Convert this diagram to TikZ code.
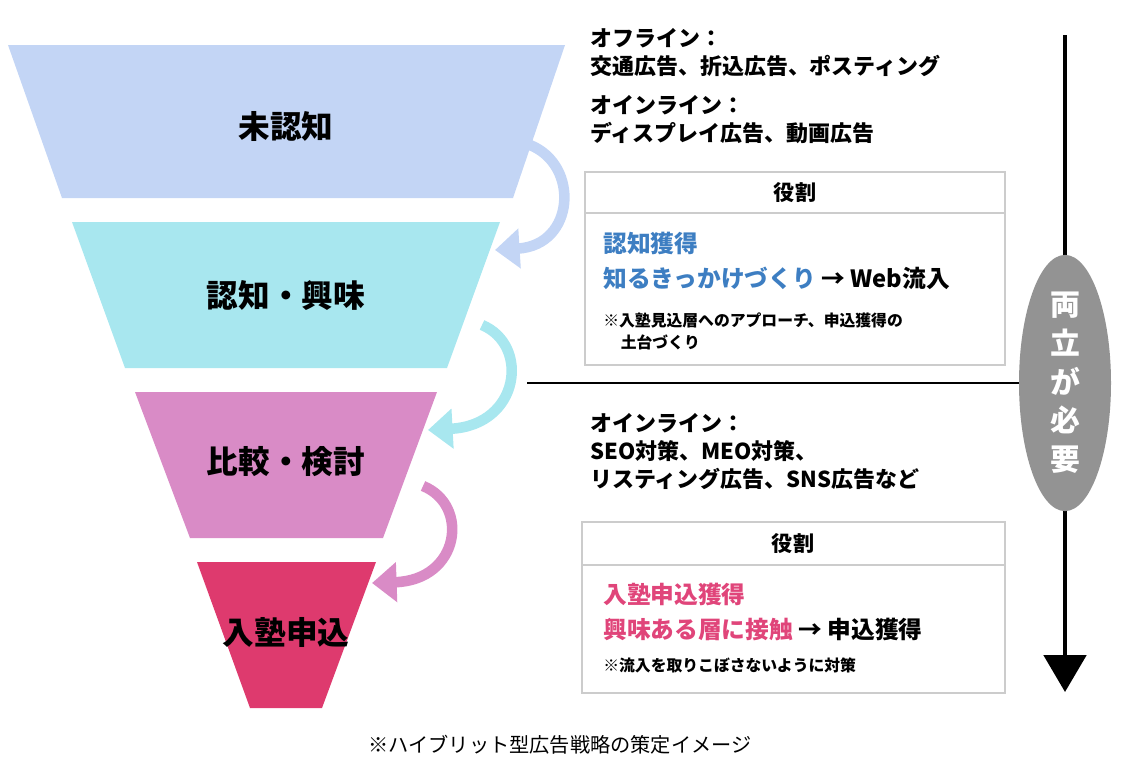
\documentclass[tikz,border=0pt]{standalone}
\usepackage{fontspec}
\setmainfont{Noto Sans CJK JP}
\usetikzlibrary{arrows.meta,positioning,shapes.geometric}
\definecolor{cStageA}{HTML}{C3D5F5}
\definecolor{cStageB}{HTML}{A8E7EF}
\definecolor{cStageC}{HTML}{D98BC6}
\definecolor{cStageD}{HTML}{DE3A6E}
\definecolor{cBlueText}{HTML}{3D7EC2}
\definecolor{cPinkText}{HTML}{E0457A}
\tikzset{
    tsStage/.style={font=\bfseries\fontsize{18}{21}\selectfont, text=black},
    tsInfo/.style={font=\bfseries\fontsize{12.5}{16}\selectfont, align=left, anchor=north west, inner sep=0pt},
    tsBox/.style={draw=gray!40, line width=0.8pt},
    tsFlow/.style={line width=6pt, -{Triangle[length=14pt,width=22pt]}}
}
\begin{document}
\begin{tikzpicture}[x=0.02cm,y=-0.02cm]
    \useasboundingbox (0,0) rectangle (1125,765);

    % funnel stages
    \fill[cStageA] (8,45) -- (565,45) -- (513,198) -- (62,198) -- cycle;
    \fill[cStageB] (72,222) -- (500,222) -- (447,368) -- (125,368) -- cycle;
    \fill[cStageC] (135,392) -- (437,392) -- (383,538) -- (190,538) -- cycle;
    \fill[cStageD] (197,562) -- (376,562) -- (322,708) -- (250,708) -- cycle;

    \node[tsStage] (unaware) at (286,126) {未認知};
    \node[tsStage] (interest) at (286,295) {認知・興味};
    \node[tsStage] (compare) at (286,462) {比較・検討};
    \node[tsStage] (apply) at (286,632) {入塾申込};

    % flow arrows
    \draw[tsFlow, cStageA] (530,145) .. controls (580,165) and (575,245) .. (495,250);
    \draw[tsFlow, cStageB] (482,325) .. controls (530,345) and (520,425) .. (428,430);
    \draw[tsFlow, cStageC] (423,486) .. controls (470,505) and (460,580) .. (372,583);

    % upper info
    \node[tsInfo] (offline) at (590,28) {オフライン：\\交通広告、折込広告、ポスティング};
    \node[tsInfo] (online1) at (590,95) {オインライン：\\ディスプレイ広告、動画広告};
    \draw[tsBox] (585,172) rectangle (1005,365);
    \draw[tsBox] (585,213) -- (1005,213);
    \node[font=\bfseries\fontsize{12}{14}\selectfont] (roleA) at (795,193) {役割};
    \node[tsInfo, font=\bfseries\fontsize{13.5}{20}\selectfont] (goalA) at (603,232)
        {\textcolor{cBlueText}{認知獲得}\\\textcolor{cBlueText}{知るきっかけづくり} → Web流入};
    \node[tsInfo, font=\bfseries\fontsize{9}{13}\selectfont] (noteA) at (603,312)
        {※入塾見込層へのアプローチ、申込獲得の\\\hspace{1.1em}土台づくり};

    \draw[line width=0.8pt] (527,383) -- (1020,383);

    % lower info
    \node[tsInfo] (online2) at (590,413) {オインライン：\\SEO対策、MEO対策、\\リスティング広告、SNS広告など};
    \draw[tsBox] (582,522) rectangle (1005,693);
    \draw[tsBox] (582,565) -- (1005,565);
    \node[font=\bfseries\fontsize{12}{14}\selectfont] (roleB) at (793,544) {役割};
    \node[tsInfo, font=\bfseries\fontsize{13.5}{20}\selectfont] (goalB) at (603,583)
        {\textcolor{cPinkText}{入塾申込獲得}\\\textcolor{cPinkText}{興味ある層に接触} → 申込獲得};
    \node[tsInfo, font=\bfseries\fontsize{9}{13}\selectfont] (noteB) at (603,657)
        {※流入を取りこぼさないように対策};

    % balance arrow
    \coordinate (top) at (1065,35);
    \coordinate (bottom) at (1065,692);
    \draw[line width=2.5pt, -{Triangle[length=21pt,width=24pt]}] (top) -- (bottom);
    \node[fill=gray!85, ellipse, minimum width=1.84cm, minimum height=5cm,
          inner sep=0pt, text=white, align=center,
          font=\bfseries\fontsize{17}{22}\selectfont] (both) at (1065,383) {両\\立\\が\\必\\要};

    \node[font=\fontsize{11.5}{14}\selectfont] (caption) at (560,745) {※ハイブリット型広告戦略の策定イメージ};
\end{tikzpicture}
\end{document}
